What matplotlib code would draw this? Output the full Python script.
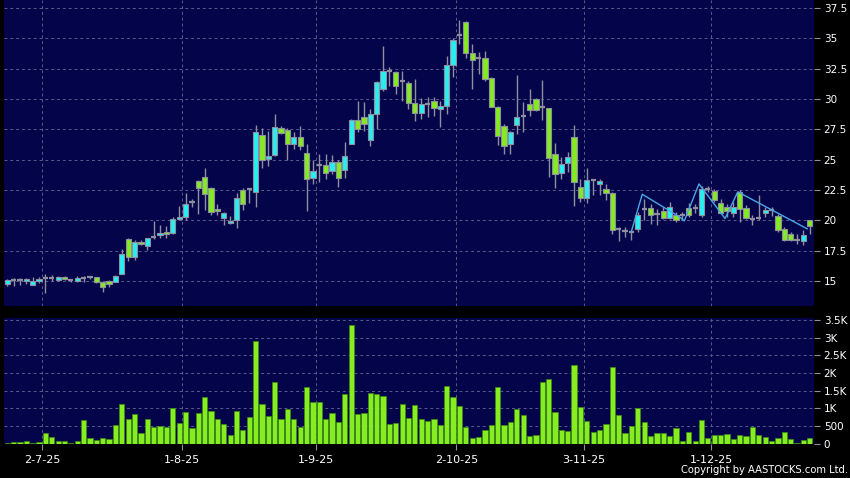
import numpy as np
import matplotlib
matplotlib.use("Agg")
import matplotlib.pyplot as plt

# daily candles (index 0 = first bar)
opens = [14.75, 15.11, 15.11, 15.00, 14.67, 15.00, 15.25, 15.25, 15.08, 15.33,
         15.06, 15.00, 15.25, 15.30, 15.30, 14.94, 15.00, 14.89, 15.58, 18.49,
         16.99, 18.21, 17.91, 18.63, 18.82, 19.04, 18.99, 20.15, 20.29, 21.48,
         23.22, 23.61, 22.64, 20.90, 20.23, 19.82, 20.01, 22.53, 22.56, 22.31,
         27.04, 25.05, 25.41, 27.60, 27.46, 26.26, 26.86, 25.57, 23.53, 24.59,
         24.59, 24.10, 24.81, 24.18, 26.31, 28.28, 28.50, 26.64, 28.77, 30.82,
         32.30, 32.21, 31.50, 31.31, 29.67, 28.85, 29.59, 29.86, 29.18, 29.43,
         32.79, 35.25, 36.37, 33.83, 33.36, 33.36, 31.72, 29.32, 27.79, 26.31,
         27.87, 28.58, 29.59, 30.00, 29.32, 29.26, 25.45, 23.93, 24.76, 26.90,
         22.78, 21.80, 23.36, 23.03, 22.62, 22.27, 19.26, 19.12, 19.00, 19.31,
         20.95, 21.04, 20.49, 20.76, 20.21, 20.41, 20.41, 21.01, 21.04, 20.41,
         22.60, 22.41, 21.42, 21.09, 20.60, 22.32, 21.01, 20.13, 20.21, 20.63,
         20.82, 20.32, 19.31, 18.90, 18.35, 18.32, 19.99]
highs = [15.17, 15.25, 15.22, 15.28, 15.36, 15.30, 15.58, 15.53, 15.42, 15.39,
         15.17, 15.39, 15.44, 15.44, 15.36, 15.03, 15.08, 15.47, 17.60, 18.54,
         18.35, 18.35, 18.57, 19.95, 19.65, 19.51, 20.29, 21.17, 22.22, 21.75,
         23.33, 24.30, 22.78, 21.31, 20.70, 20.34, 22.22, 22.64, 22.70, 27.82,
         27.62, 27.35, 28.75, 27.79, 27.60, 27.30, 27.79, 26.26, 24.95, 25.49,
         25.49, 25.40, 24.95, 26.45, 28.35, 29.86, 29.73, 29.18, 31.50, 34.37,
         32.60, 32.32, 32.32, 31.50, 31.64, 30.08, 30.14, 30.14, 29.86, 33.55,
         35.05, 36.48, 36.45, 34.51, 33.91, 33.96, 31.85, 29.40, 27.90, 27.40,
         32.00, 29.73, 30.80, 30.10, 31.55, 29.30, 26.37, 25.24, 25.66, 27.86,
         23.40, 24.28, 23.40, 23.40, 22.96, 22.30, 19.45, 19.45, 19.17, 20.70,
         21.78, 21.37, 20.95, 21.09, 21.50, 20.68, 20.68, 21.42, 21.37, 22.87,
         22.79, 22.60, 21.78, 21.37, 21.50, 22.46, 21.23, 20.41, 22.05, 21.09,
         21.09, 20.54, 19.45, 19.04, 18.84, 19.17, 19.99]
lows = [14.58, 14.60, 14.67, 14.72, 14.67, 14.83, 13.98, 15.03, 15.00, 15.11,
        14.94, 14.89, 14.89, 15.14, 14.81, 14.06, 14.50, 14.89, 15.58, 16.69,
        16.77, 17.93, 17.57, 18.49, 18.54, 18.54, 18.90, 20.01, 20.01, 21.12,
        20.56, 20.84, 20.43, 20.43, 19.59, 19.68, 19.40, 20.84, 21.45, 21.06,
        24.30, 24.49, 25.30, 27.13, 25.00, 25.90, 25.77, 20.79, 23.03, 23.17,
        23.39, 23.85, 22.76, 23.53, 26.26, 27.27, 27.40, 26.12, 27.54, 30.68,
        31.09, 30.41, 29.86, 29.18, 28.22, 28.36, 28.55, 28.63, 27.68, 28.77,
        31.83, 34.56, 33.42, 30.82, 32.10, 31.50, 29.32, 26.18, 25.44, 25.49,
        27.13, 27.25, 28.60, 29.00, 28.30, 23.58, 22.66, 23.38, 24.00, 21.20,
        21.55, 21.43, 22.07, 22.07, 21.64, 18.90, 18.30, 18.65, 18.41, 19.08,
        20.00, 19.72, 19.58, 20.13, 20.13, 19.86, 20.00, 20.27, 20.60, 20.27,
        22.32, 21.50, 20.54, 20.27, 20.27, 19.86, 20.13, 19.58, 20.00, 20.27,
        20.32, 19.04, 18.27, 18.32, 18.08, 17.99, 18.84]
closes = [15.08, 15.11, 15.11, 15.17, 15.00, 15.17, 15.25, 15.25, 15.33, 15.17,
          15.06, 15.25, 15.25, 15.30, 14.89, 14.53, 14.72, 15.42, 17.19, 16.99,
          18.21, 18.07, 18.52, 18.63, 18.99, 18.88, 20.15, 20.31, 21.37, 21.48,
          22.64, 22.14, 20.65, 20.73, 20.62, 19.95, 21.86, 21.37, 22.56, 27.29,
          24.97, 25.27, 27.67, 27.22, 26.26, 26.86, 26.15, 23.44, 24.10, 24.59,
          23.94, 24.81, 23.53, 25.33, 28.28, 27.54, 27.90, 28.77, 31.42, 32.30,
          32.30, 31.09, 31.50, 29.67, 28.85, 29.59, 29.59, 29.26, 29.43, 32.79,
          34.84, 35.25, 33.83, 33.20, 33.36, 31.64, 29.34, 26.94, 26.15, 27.30,
          28.55, 28.58, 29.06, 29.06, 29.32, 25.16, 23.85, 24.68, 25.25, 23.17,
          21.80, 23.36, 23.36, 23.27, 22.28, 19.24, 19.26, 19.12, 19.00, 20.41,
          20.95, 20.46, 20.49, 20.21, 21.09, 20.00, 20.41, 20.46, 21.04, 22.60,
          22.60, 21.69, 20.60, 20.76, 21.09, 20.95, 20.21, 20.13, 20.21, 20.87,
          20.82, 19.23, 18.35, 18.41, 18.35, 18.82, 19.50]
volumes = [20, 47, 47, 57, 28, 38, 284, 189, 66, 66,
           28, 57, 662, 142, 95, 151, 123, 520, 1107, 690,
           823, 284, 681, 463, 492, 454, 1012, 577, 889, 435,
           851, 1305, 927, 690, 558, 227, 917, 397, 747, 2913,
           1107, 776, 1750, 690, 984, 690, 473, 1589, 1173, 1173,
           681, 870, 596, 1400, 3358, 832, 870, 1419, 1390, 1334,
           549, 587, 1107, 728, 1088, 681, 634, 690, 511, 1637,
           1305, 1050, 482, 170, 189, 378, 520, 1608, 511, 596,
           974, 804, 218, 236, 1731, 1816, 899, 378, 359, 2214,
           1045, 643, 340, 369, 539, 2176, 804, 303, 492, 993,
           605, 218, 293, 293, 218, 426, 76, 331, 66, 662,
           170, 236, 246, 274, 132, 246, 218, 454, 236, 180,
           66, 161, 340, 123, 28, 95, 142]

# month boundaries on the bar axis
date_pos = [5.5, 27.5, 48.5, 70.5, 90.5, 110.5]
date_labels = ["2-7-25", "1-8-25", "1-9-25", "2-10-25", "3-11-25", "1-12-25"]

# trend line drawn over the last part of the chart
zz_x = [98.0, 99.7, 105.5, 106.3, 108.6, 112.7, 114.7, 125.6]
zz_y = [19.1, 22.15, 20.3, 19.95, 23.0, 20.15, 22.35, 19.3]

price_ticks = [15, 17.5, 20, 22.5, 25, 27.5, 30, 32.5, 35, 37.5]
price_labels = ["15", "17.5", "20", "22.5", "25", "27.5", "30", "32.5", "35", "37.5"]
vol_ticks = [0, 500, 1000, 1500, 2000, 2500, 3000, 3500]
vol_labels = ["0", "500", "1K", "1.5K", "2K", "2.5K", "3K", "3.5K"]

BG = "#04044a"
GRID = "#5a5a8c"
WICK = "#8e8e9e"
UP = "#28eef2"
DOWN = "#84ea22"
VOL = "#86ee20"


def style_axes(ax):
    ax.set_facecolor(BG)
    for sp in ax.spines.values():
        sp.set_visible(False)
    ax.yaxis.tick_right()
    ax.tick_params(axis="y", colors=WICK, labelcolor="white", length=4,
                   width=0.8, pad=3, labelsize=7.5)
    ax.set_xticks(date_pos)
    ax.grid(True, color=GRID, linestyle=(0, (3, 3)), linewidth=0.7)
    ax.set_axisbelow(True)
    ax.set_xlim(-0.5, 126.66)


def draw_candles(ax):
    x = np.arange(len(opens))
    o = np.array(opens)
    c = np.array(closes)
    ax.vlines(x, lows, highs, color=WICK, linewidth=1, zorder=2)
    flat = np.isclose(o, c)
    body = ~flat
    cols = np.where(c > o, UP, DOWN)
    ax.bar(x[body], np.abs(c - o)[body], bottom=np.minimum(o, c)[body],
           width=0.82, color=cols[body], edgecolor=WICK, linewidth=0.8,
           zorder=3)
    ax.hlines(o[flat], x[flat] - 0.41, x[flat] + 0.41, color=WICK,
              linewidth=1.6, zorder=3)


fig = plt.figure(figsize=(8.5, 4.78), dpi=100, facecolor="black")
ax_p = fig.add_axes([4 / 850, 1 - 306 / 478, 810 / 850, 306 / 478])
ax_v = fig.add_axes([4 / 850, 1 - 443.5 / 478, 810 / 850, 125.5 / 478])

style_axes(ax_p)
draw_candles(ax_p)
ax_p.plot(zz_x, zz_y, color="#4ba6e6", linewidth=1, zorder=4)
ax_p.set_ylim(12.94, 38.16)
ax_p.set_yticks(price_ticks)
ax_p.set_yticklabels(price_labels)
ax_p.tick_params(axis="x", length=0, labelbottom=False)

style_axes(ax_v)
ax_v.bar(np.arange(len(volumes)), volumes, width=0.82, color=VOL,
         edgecolor="#3c8c12", linewidth=0.5, zorder=3)
ax_v.set_ylim(0, 3560)
ax_v.set_yticks(vol_ticks)
ax_v.set_yticklabels(vol_labels)
ax_v.set_xticklabels(date_labels)
ax_v.tick_params(axis="x", colors=WICK, labelcolor="white", length=4,
                 width=0.8, pad=4, labelsize=8)

fig.text(0.998, 0.006, "Copyright by AASTOCKS.com Ltd.", color="white",
         fontsize=7.2, ha="right", va="bottom")

fig.savefig("out.png", dpi=100, facecolor="black")
